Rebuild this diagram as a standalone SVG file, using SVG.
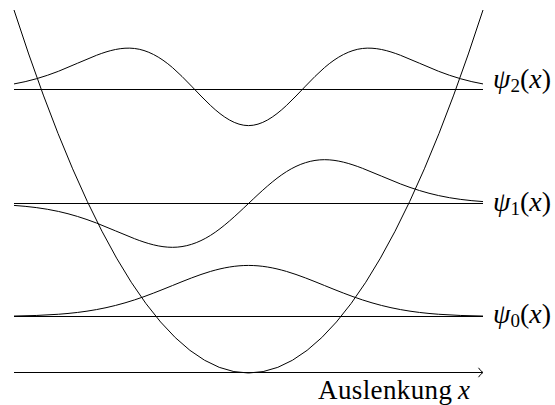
<svg xmlns="http://www.w3.org/2000/svg" width="555" height="405" viewBox="0 0 555 405">
<style>
.ln{fill:none;stroke:#000;stroke-width:1}
.lbl{font-family:"Liberation Serif","Times New Roman",serif;font-size:27px;fill:#000}
.psi{font-size:28px}
.it{font-style:italic}
</style>
<rect width="555" height="405" fill="#fff"/>
<g id="potential">
<path class="ln" d="M14,10 Q248.5,736 483,10"/>
</g>
<g id="levels">
<line class="ln" x1="14" y1="89.5" x2="483" y2="89.5"/>
<line class="ln" x1="14" y1="203.5" x2="483" y2="203.5"/>
<line class="ln" x1="14" y1="316.5" x2="483" y2="316.5"/>
</g>
<g id="psi0">
<path class="ln" d="M14,316.06 C28.85,315.80 43.66,315.36 58.5,314.26 C71.17,313.33 83.83,311.89 96.5,309.59 C109.17,307.29 121.83,304.07 134.5,299.92 C147.17,295.78 159.83,290.68 172.5,285.52 C185.17,280.36 197.83,275.19 210.5,271.43 C223.17,267.68 235.83,265.43 248.5,265.43 C261.17,265.43 273.83,267.68 286.5,271.43 C299.17,275.19 311.83,280.36 324.5,285.52 C337.17,290.68 349.83,295.78 362.5,299.92 C375.17,304.07 387.83,307.29 400.5,309.59 C413.17,311.89 425.83,313.33 438.5,314.26 C453.34,315.36 468.15,315.80 483,316.06"/>
<text class="lbl psi" x="493" y="323"><tspan class="it">ψ</tspan><tspan font-size="19" dy="4">0</tspan><tspan dy="-4">(</tspan><tspan class="it">x</tspan>)</text>
</g>
<g id="psi1">
<path class="ln" d="M14,205.41 C28.85,206.44 43.66,208.19 58.5,211.44 C71.17,214.22 83.830,218.16 96.5,223.05 C109.17,227.94 121.83,233.79 134.5,238.68 C147.17,243.57 159.83,247.32 172.5,247.32 C185.17,247.32 197.83,243.35 210.5,235.38 C223.17,227.41 235.83,215.54 248.5,203.5 C261.17,191.46 273.83,179.59 286.5,171.62 C299.17,163.65 311.83,159.68 324.5,159.68 C337.17,159.68 349.83,163.43 362.5,168.32 C375.17,173.21 387.83,179.06 400.5,183.95 C413.17,188.84 425.83,192.78 438.5,195.56 C453.34,198.81 468.15,200.56 483,201.59"/>
<text class="lbl psi" x="493" y="210.5"><tspan class="it">ψ</tspan><tspan font-size="19" dy="4">1</tspan><tspan dy="-4">(</tspan><tspan class="it">x</tspan>)</text>
</g>
<g id="psi2">
<path class="ln" d="M14,83.93 C28.85,81.32 43.66,77.06 58.5,71.25 C71.17,66.29 83.83,60.18 96.5,55.29 C109.17,50.40 121.83,47.00 134.5,48.47 C147.17,49.94 159.83,56.65 172.5,67.60 C185.17,78.55 197.83,93.48 210.5,105.43 C223.17,117.38 235.83,125.61 248.5,125.61 C261.17,125.61 273.83,117.38 286.5,105.43 C299.17,93.48 311.83,78.55 324.5,67.60 C337.17,56.65 349.83,49.94 362.5,48.47 C375.17,47.00 387.83,50.40 400.5,55.29 C413.17,60.18 425.83,66.29 438.5,71.25 C453.34,77.06 468.15,81.32 483,83.93"/>
<text class="lbl psi" x="493" y="87.5"><tspan class="it">ψ</tspan><tspan font-size="19" dy="4">2</tspan><tspan dy="-4">(</tspan><tspan class="it">x</tspan>)</text>
</g>
<g id="axis">
<line class="ln" x1="14" y1="372.5" x2="482.5" y2="372.5"/>
<path class="ln" d="M478.5,367.8 Q480.5,371 483,372.5 Q480.5,374 478.5,377.2"/>
<text class="lbl" x="318" y="399" textLength="134" lengthAdjust="spacing">Auslenkung</text>
<text class="lbl it" x="458" y="399">x</text>
</g>
</svg>
